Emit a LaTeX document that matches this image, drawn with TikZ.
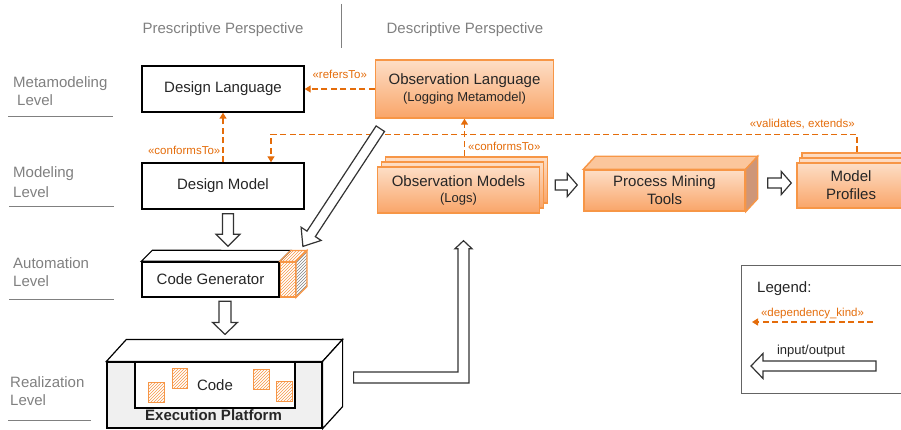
\documentclass[tikz,border=0pt]{standalone}
\usepackage{fontspec}
\setmainfont{Liberation Sans}
\usetikzlibrary{calc,arrows.meta,shadows,patterns}

\definecolor{maintext}{RGB}{38,38,38}
\definecolor{lvlgrey}{RGB}{128,128,128}
\definecolor{legendgrey}{RGB}{100,100,100}
\definecolor{obsline}{RGB}{247,150,70}
\definecolor{obstop}{RGB}{253,222,198}
\definecolor{obsbottom}{RGB}{249,165,105}
\definecolor{deporange}{RGB}{228,108,10}
\definecolor{pmtside}{RGB}{206,150,120}
\definecolor{pmttop}{RGB}{251,198,156}
\definecolor{platform}{RGB}{240,240,240}

\newcommand{\mainsize}{\fontsize{15}{18}\selectfont}
\newcommand{\subtext}{\fontsize{13}{15}\selectfont}

% hollow block arrow: from, to, half shaft, half head, head length
\newcommand{\blockarrow}[5]{%
  \coordinate (ba) at ($(#2)!#5!(#1)$);
  \draw[hollow] ($(#1)!#3!90:(#2)$) -- ($(ba)!#3!-90:(#1)$) -- ($(ba)!#4!-90:(#1)$)
    -- (#2) -- ($(ba)!#4!90:(#1)$) -- ($(ba)!#3!90:(#1)$) -- ($(#1)!#3!-90:(#2)$) -- cycle;
}

\begin{document}
\begin{tikzpicture}[x=1pt,y=-1pt,
  box/.style={draw=black, line width=1.4pt, fill=white, text=maintext, font=\mainsize, inner sep=0pt, align=center},
  obsbox/.style={draw=obsline, line width=1.4pt, top color=obstop, bottom color=obsbottom, text=maintext, font=\mainsize, inner sep=0pt, align=center},
  stackcopy/.style={copy shadow={shadow xshift=#1*2, shadow yshift=10pt, draw=obsline, line width=1.4pt, top color=obstop, bottom color=obsbottom},
                    copy shadow={shadow xshift=#1, shadow yshift=5pt, draw=obsline, line width=1.4pt, top color=obstop, bottom color=obsbottom}},
  dep/.style={draw=deporange, line width=1.4pt, dash pattern=on 6pt off 3.5pt, -{Triangle[length=6pt,width=7pt]}},
  deplabel/.style={text=deporange, font=\fontsize{11.5}{13}\selectfont, inner sep=0pt},
  hollow/.style={draw=black!80, line width=1.2pt, fill=white, line join=miter},
  levellabel/.style={text=lvlgrey, font=\fontsize{15}{18}\selectfont, align=left, inner sep=0pt, anchor=north west},
  levelline/.style={draw=lvlgrey, line width=1pt},
  persp/.style={text=lvlgrey, font=\mainsize, inner sep=0pt, anchor=base},
  codebit/.style={draw=obsline, line width=1pt, pattern=north east lines, pattern color=obsline}]
\useasboundingbox (0,0) rectangle (901,430);

% perspectives
\node[persp] (prescr) at (223,34) {Prescriptive Perspective};
\node[persp] (descr) at (465,34) {Descriptive Perspective};
\draw[lvlgrey, line width=1pt] (341,4) -- (341,48);

% levels
\node[levellabel] (lmeta) at (13,76) {Metamodeling\\\hspace*{4pt}Level};
\draw[levelline] (8,117) -- (113,117);
\node[levellabel] (lmodel) at (13,166) {Modeling\\[2pt]Level};
\draw[levelline] (9,207) -- (114,207);
\node[levellabel] (lauto) at (13,257) {Automation\\Level};
\draw[levelline] (9,299) -- (114,299);
\node[levellabel] (lreal) at (10,376) {Realization\\Level};
\draw[levelline] (8,420) -- (91,420);

% prescriptive side
\node[box, minimum width=162pt, minimum height=46pt] (dlang) at (223,89) {Design Language};
\node[box, minimum width=162pt, minimum height=46pt] (dmodel) at (223,186) {Design Model};

% code generator
\node[box, minimum width=137pt, minimum height=35pt] (cgen) at (210.5,279.5) {Code Generator};
\node[draw=obsline, line width=1.2pt, pattern=north east lines, pattern color=obsline,
  minimum width=15pt, minimum height=35pt, inner sep=0pt, anchor=west] (cghatch) at (cgen.east) {};
\draw[black, line width=1.2pt, fill=white] (cgen.north west) -- ++(11,-11) -- ($(cghatch.north west)+(11,-11)$) -- (cghatch.north west) -- cycle;
\draw[obsline, line width=1.2pt, pattern=north east lines, pattern color=obsline] (cghatch.north west) -- ++(11,-11) -- ($(cghatch.north east)+(11,-11)$) -- (cghatch.north east) -- cycle;
\draw[obsline, line width=1.2pt, pattern=north east lines, pattern color=gray] (cghatch.north east) -- ++(11,-11) -- ($(cghatch.south east)+(11,-11)$) -- (cghatch.south east) -- cycle;

% execution platform
\node[box, fill=platform, line width=1.2pt, minimum width=215pt, minimum height=66pt] (exec) at (214.5,395) {};
\draw[black, line width=1.2pt, fill=white] (exec.north west) -- ++(20,-22) -- ($(exec.north east)+(20,-22)$) -- (exec.north east) -- cycle;
\draw[black, line width=1.2pt, fill=white] (exec.north east) -- ++(20,-22) -- ($(exec.south east)+(20,-22)$) -- (exec.south east) -- cycle;
\node[box, line width=1.2pt, minimum width=160pt, minimum height=46pt, anchor=north] (code) at ($(exec.north)+(0.5,0)$) {Code};
\node[text=maintext, font=\mainsize\bfseries, inner sep=0pt] (execl) at (213.5,415.5) {Execution Platform};
\draw[codebit] (148,382) rectangle (164,402);
\draw[codebit] (172,368) rectangle (187,388);
\draw[codebit] (253,369) rectangle (269,389);
\draw[codebit] (276,381) rectangle (292,401);

% descriptive side
\node[obsbox, minimum width=178pt, minimum height=58pt] (olang) at (464.5,89) {Observation Language\\[-1pt]{\subtext (Logging Metamodel)}};
\node[obsbox, stackcopy=4pt, minimum width=162pt, minimum height=46pt] (omodels) at (458.5,190) {Observation Models\\[-2pt]{\subtext (Logs)}};
\node[obsbox, minimum width=161pt, minimum height=41pt] (pmt) at (664.5,190.5) {Process Mining\\Tools};
\draw[obsline, line width=1.4pt, fill=pmttop] (pmt.north west) -- ++(12,-13) -- ($(pmt.north east)+(12,-13)$) -- (pmt.north east) -- cycle;
\draw[obsline, line width=1.4pt, fill=pmtside] (pmt.north east) -- ++(12,-13) -- ($(pmt.south east)+(12,-13)$) -- (pmt.south east) -- cycle;
\node[obsbox, stackcopy=2.5pt, minimum width=108pt, minimum height=45pt] (mprof) at (851,185.5) {Model\\Profiles};

% dependencies
\draw[dep] (dmodel.north) -- (dlang.south) node[deplabel, pos=0.24, anchor=east, xshift=-2pt] (conf1) {«conformsTo»};
\draw[dep] (olang.west) -- (dlang.east) node[deplabel, midway, anchor=base, yshift=10pt] (refl) {«refersTo»};
\draw[dep] ($(mprof.north)+(6,-10)$) |- ($(dmodel.north)+(48,-28)$) -- ($(dmodel.north)+(48,0)$);
\node[deplabel, anchor=base east] (vall) at (855,128) {«validates, extends»};
\draw[dep] ($(omodels.north)+(6,-10)$) -- (olang.south) node[deplabel, pos=0.26, anchor=west, xshift=3pt] (conf2) {«conformsTo»};

% input/output
\coordinate (a1s) at ($(dmodel.south)+(5,4)$);
\coordinate (a1e) at ($(cgen.north)+(17.5,-15)$);
\blockarrow{a1s}{a1e}{5.5pt}{12pt}{12pt}
\coordinate (a2s) at ($(cgen.south)+(14.5,3.5)$);
\coordinate (a2e) at ($(exec.north)+(10.5,-27)$);
\blockarrow{a2s}{a2e}{6pt}{12.5pt}{12pt}
\coordinate (a3s) at ($(omodels.east)+(15,-5)$);
\coordinate (a3e) at ($(pmt.west)+(-6,-5.5)$);
\blockarrow{a3s}{a3e}{5pt}{11.5pt}{10pt}
\coordinate (a4s) at ($(pmt.east)+(22,-7.5)$);
\coordinate (a4e) at ($(mprof.west)+(-5,-2.5)$);
\blockarrow{a4s}{a4e}{5pt}{11.5pt}{10pt}
\coordinate (dgs) at ($(olang.south west)+(5.5,10)$);
\coordinate (dge) at ($(cghatch.north east)+(7,-15)$);
\blockarrow{dgs}{dge}{5pt}{12pt}{15pt}
\coordinate (lfoot) at ($(exec.east)+(31,-17.5)$);
\coordinate (ltip) at ($(omodels.south)+(5,27)$);
\draw[hollow] ($(lfoot)+(0,-5.5)$) -| ($(ltip)+(-5.5,8)$) -- ++(-3,0) -- (ltip) -- ($(ltip)+(8.5,8)$) -- ++(-3,0) |- ($(lfoot)+(0,5.5)$) -- cycle;

% legend
\node[draw=legendgrey, line width=1.2pt, minimum width=171pt, minimum height=128pt, inner sep=0pt, anchor=north west] (legend) at (741,265) {};
\node[text=maintext, font=\mainsize, inner sep=0pt, anchor=base west] (legtitle) at (757,292) {Legend:};
\coordinate (ldA) at (873,322);
\coordinate (ldB) at (752,322);
\draw[dep] (ldA) -- (ldB) node[deplabel, midway, anchor=base, yshift=6pt] (ldl) {«dependency\_kind»};
\coordinate (liA) at (876,366);
\coordinate (liB) at (751,366);
\blockarrow{liA}{liB}{5pt}{12.5pt}{12pt}
\node[text=maintext, font=\subtext, inner sep=0pt, anchor=base] (lil) at (811,354) {input/output};

\end{tikzpicture}
\end{document}
